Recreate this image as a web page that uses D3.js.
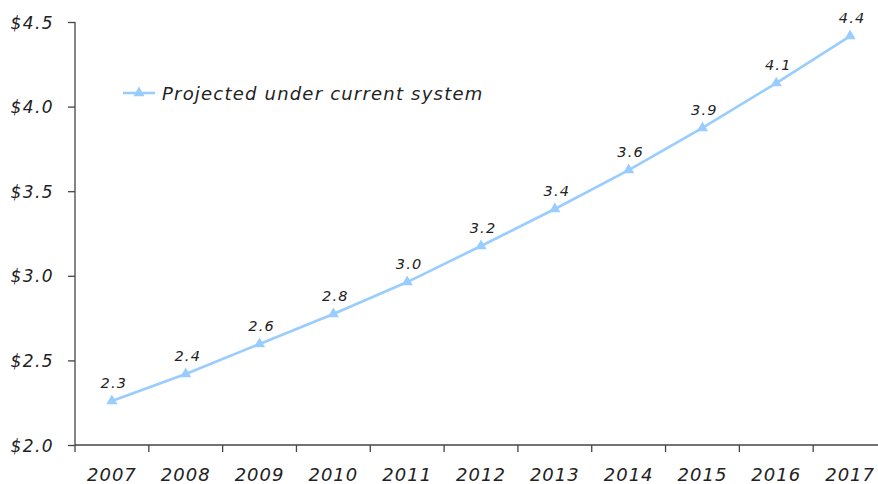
<!DOCTYPE html>
<html>
<head>
<meta charset="utf-8">
<script src="https://cdn.jsdelivr.net/npm/d3@7"></script>
<style>
  html, body { margin: 0; padding: 0; background: #fff; }
  svg { display: block; }
  text { font-family: "DejaVu Sans", sans-serif; font-style: italic; fill: #222; }
</style>
</head>
<body>
<svg id="chart" width="878" height="484"></svg>
<script>
const years = ["2007","2008","2009","2010","2011","2012","2013","2014","2015","2016","2017"];
const projected = [2.26, 2.42, 2.597, 2.774, 2.963, 3.176, 3.395, 3.625, 3.874, 4.139, 4.417];
const pointLabels = ["2.3","2.4","2.6","2.8","3.0","3.2","3.4","3.6","3.9","4.1","4.4"];
const yTicks = [2.0, 2.5, 3.0, 3.5, 4.0, 4.5];
const seriesName = "Projected under current system";

const svg = d3.select("#chart");
const mLeft = 75, mTop = 22, mBottom = 445, bandRight = 887;
const lineColor = "#99CCFF";

const x = d3.scaleBand().domain(years).range([mLeft, bandRight]).paddingInner(0).paddingOuter(0);
const y = d3.scaleLinear().domain([2.0, 4.5]).range([mBottom, mTop]);

// Y axis
const yAxis = svg.append("g").attr("transform", `translate(${mLeft},0)`)
  .call(d3.axisLeft(y).tickValues(yTicks).tickSize(7).tickPadding(14)
    .tickFormat(d => "$" + d3.format(".1f")(d)));
yAxis.select(".domain").attr("stroke", "#444").attr("stroke-width", 1.3).attr("d", `M0,${mTop}V${mBottom}`);
yAxis.selectAll(".tick line").attr("stroke", "#444").attr("stroke-width", 1.3);
yAxis.selectAll(".tick text").attr("font-size", 17).style("letter-spacing", "1.4px")
  .attr("dy", "0.36em");

// X axis
const xAxis = svg.append("g").attr("transform", `translate(0,${mBottom})`)
  .call(d3.axisBottom(x).tickSize(0).tickPadding(23));
xAxis.select(".domain").attr("stroke", "#444").attr("stroke-width", 1.3).attr("d", `M${mLeft},0H878`);
xAxis.selectAll(".tick text").attr("font-size", 18).style("letter-spacing", "1px");
const bounds = years.map(d => x(d));
xAxis.selectAll(".bound").data(bounds).enter().append("line")
  .attr("class", "bound")
  .attr("x1", d => d).attr("x2", d => d).attr("y1", 0).attr("y2", 7)
  .attr("stroke", "#444").attr("stroke-width", 1.3);

// line
const cx = (d, i) => x(years[i]) + x.bandwidth() / 2;
const line = d3.line().x((d, i) => cx(d, i)).y(d => y(d));
svg.append("path").datum(projected).attr("d", line)
  .attr("fill", "none").attr("stroke", lineColor).attr("stroke-width", 2.6);

const tri = d3.symbol().type(d3.symbolTriangle).size(54);
svg.selectAll(".pt").data(projected).enter().append("path")
  .attr("class", "pt")
  .attr("d", tri)
  .attr("transform", (d, i) => `translate(${cx(d, i)},${y(d)})`)
  .attr("fill", lineColor);

svg.selectAll(".lbl").data(projected).enter().append("text")
  .attr("class", "lbl")
  .attr("x", (d, i) => cx(d, i) + 2)
  .attr("y", d => y(d) - 13)
  .attr("text-anchor", "middle")
  .attr("font-size", 14.5)
  .style("letter-spacing", "1.2px")
  .text((d, i) => pointLabels[i]);

// legend
const lg = svg.append("g");
lg.append("line").attr("x1", 123).attr("x2", 155).attr("y1", 93).attr("y2", 93)
  .attr("stroke", lineColor).attr("stroke-width", 2.6);
lg.append("path").attr("d", tri).attr("transform", "translate(139,93)").attr("fill", lineColor);
lg.append("text").attr("x", 162).attr("y", 100).attr("font-size", 18)
  .style("letter-spacing", "1.2px").text(seriesName);
</script>
</body>
</html>
